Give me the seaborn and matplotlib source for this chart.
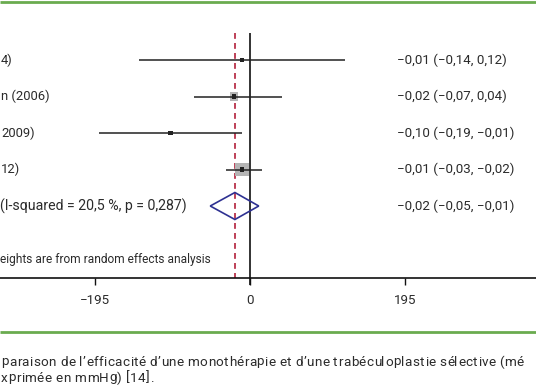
import numpy as np
import pandas as pd
import seaborn as sns
import matplotlib.pyplot as plt
from matplotlib.patches import Polygon

# study rows (labels are cropped on the left in the source figure)
labels = ["4)", "n (2006)", "2009)", "12)"]
effect = [-10, -20, -100, -10]
ci_low = [-140, -70, -190, -30]
ci_high = [120, 40, -10, 15]
weights = [11.5, 25.0, 11.0, 51.5]
est_text = ["\u22120,01 (\u22120,14, 0,12)", "\u22120,02 (\u22120,07, 0,04)",
            "\u22120,10 (\u22120,19, \u22120,01)", "\u22120,01 (\u22120,03, \u22120,02)"]

# pooled estimate
pooled = [-50, -19, 11]
pooled_label = "(I-squared = 20,5 %, p = 0,287)"
pooled_text = "\u22120,02 (\u22120,05, \u22120,01)"
note = "eights are from random effects analysis"
xticks = [-195, 0, 195]
caption = ["paraison de l\u2019efficacit\u00e9 d\u2019une monoth\u00e9rapie et d\u2019une trab\u00e9culoplastie s\u00e9lective (m\u00e9",
           "xprim\u00e9e en mmHg) [14]."]

sns.set_theme(style="white")
plt.rcParams["font.family"] = ["Roboto", "DejaVu Sans"]

ink = "#2b2b2b"
green = "#6aab4f"

def px(x):
    # horizontal pixel -> data value
    return (x - 250) / 0.795

def py(y):
    # vertical pixel -> row coordinate
    return (y - 60) / 36.5

fig = plt.figure(figsize=(5.36, 3.86), dpi=100)
ax = fig.add_axes([0, 0, 1, 1])
ax.set_xlim(px(0), px(536))
ax.set_ylim(py(386), py(0))
ax.axis("off")

df = pd.DataFrame({"row": np.arange(len(labels)), "effect": effect,
                   "low": ci_low, "high": ci_high, "w": weights})

# confidence intervals
ax.hlines(df["row"], df["low"], df["high"], color="#222222", lw=1.1, zorder=3)
# weight boxes
sns.scatterplot(data=df, x="effect", y="row", size="w", sizes=(8, 95),
                size_norm=(min(weights), max(weights)), marker="s",
                color="#b5b5b5", edgecolor="none", legend=False, ax=ax, zorder=2)
# point estimates
sns.scatterplot(data=df, x="effect", y="row", s=10, marker="s", color="#222222",
                edgecolor="none", legend=False, ax=ax, zorder=4)

# pooled diamond
r = len(labels)
dh = 0.37
ax.add_patch(Polygon([(pooled[0], r), (pooled[1], r - dh), (pooled[2], r), (pooled[1], r + dh)],
                     closed=True, fill=False, edgecolor="#2e3192", lw=1.2, zorder=5))

# null line and pooled effect line
axis_y = py(278)
ax.vlines(0, py(33), py(285), color="#111111", lw=1.2, zorder=1)
ax.vlines(pooled[1], py(33), axis_y, color="#b3203c", lw=1.2, linestyles=(0, (3.5, 2.5)), zorder=1)

# x axis
ax.hlines(axis_y, px(0), px(536), color="#111111", lw=1.2)
for t in xticks:
    ax.vlines(t, axis_y, py(285), color="#111111", lw=1.0)
    ax.text(t, py(300), "\u2212" + str(-t) if t < 0 else str(t), ha="center", va="center",
            fontsize=9.6, color=ink)

# text columns
for i in range(len(labels)):
    ax.text(px(1), i, labels[i], ha="left", va="center", fontsize=9.4, color=ink)
    ax.text(px(397), i, est_text[i], ha="left", va="center", fontsize=9.6, color=ink)
ax.text(px(0), r, pooled_label, ha="left", va="center", fontsize=10.2, color=ink)
ax.text(px(397), r, pooled_text, ha="left", va="center", fontsize=9.6, color=ink)
ax.text(px(0), py(260), note, ha="left", va="center", fontsize=8.6, color=ink)

# frame lines
ax.hlines(py(2), px(0), px(536), color=green, lw=2)
ax.hlines(py(332), px(0), px(536), color=green, lw=2)

# caption: letter-spaced lines (tracking chosen so the first line fills the width)
renderer = fig.canvas.get_renderer()
cap_size = 9.7

def text_w(s):
    if not s:
        return 0.0
    t = fig.text(0, 0, s, fontsize=cap_size)
    w = t.get_window_extent(renderer).width
    t.remove()
    return w

adv_I = text_w("II") - text_w("I")

def metrics(s):
    # (advance, left bearing) per character, measured against an "I" sentinel
    out = []
    for ch in s:
        adv = text_w("I" + ch + "I") - text_w("II")
        lsb = 0.0 if ch == " " else text_w("I" + ch) - text_w(ch) - adv_I
        out.append((adv, lsb))
    return out

line0 = caption[0]
track = (524 - 1 - sum(a for a, _ in metrics(line0))) / (len(line0) - 1)

def tracked(s, y, x0):
    x = x0
    for ch, (adv, lsb) in zip(s, metrics(s)):
        if ch != " ":
            fig.text((x + lsb) / 536, 1 - y / 386, ch, fontsize=cap_size, color=ink,
                     va="center", ha="left")
        x += adv + track

tracked(caption[0], 362, 1)
tracked(caption[1], 378, 1)

fig.savefig("out.png", dpi=100)
